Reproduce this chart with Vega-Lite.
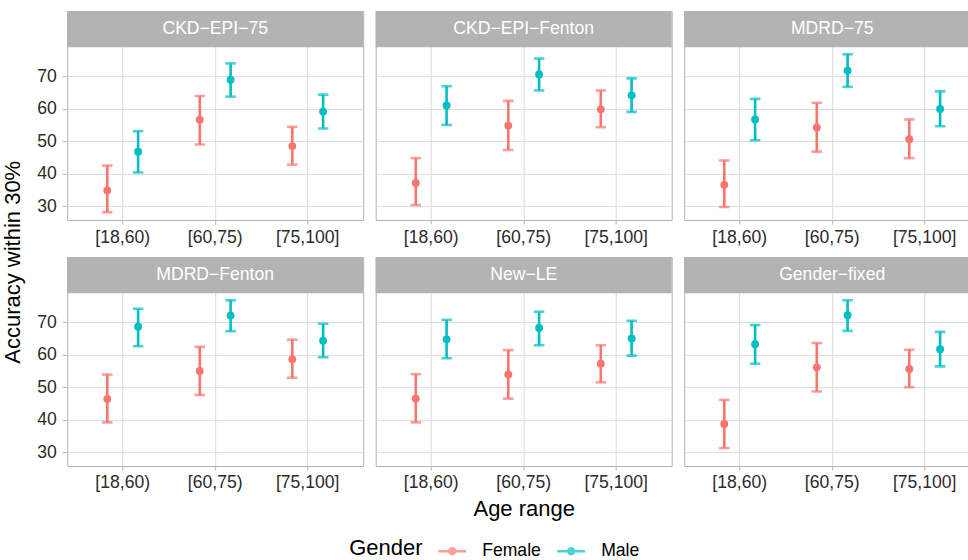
{
  "$schema": "https://vega.github.io/schema/vega-lite/v6.json",
  "padding": {"left": 1.2, "top": 10, "right": -10, "bottom": 0},
  "background": "white",
  "title": {"text": "Accuracy within 30%", "orient": "left", "anchor": "middle", "fontSize": 22, "fontWeight": "normal", "font": "Liberation Sans", "color": "black", "offset": 11.5, "dx": 23},
  "data": {"values": [
    {"Equation": "CKD−EPI−75", "Age": "[18,60)", "Gender": "Female", "acc": 34.9, "lo": 28.2, "hi": 42.5},
    {"Equation": "CKD−EPI−75", "Age": "[18,60)", "Gender": "Male", "acc": 46.8, "lo": 40.4, "hi": 53.1},
    {"Equation": "CKD−EPI−75", "Age": "[60,75)", "Gender": "Female", "acc": 56.6, "lo": 49.0, "hi": 63.9},
    {"Equation": "CKD−EPI−75", "Age": "[60,75)", "Gender": "Male", "acc": 68.9, "lo": 63.7, "hi": 73.9},
    {"Equation": "CKD−EPI−75", "Age": "[75,100]", "Gender": "Female", "acc": 48.5, "lo": 42.8, "hi": 54.4},
    {"Equation": "CKD−EPI−75", "Age": "[75,100]", "Gender": "Male", "acc": 59.1, "lo": 53.9, "hi": 64.3},
    {"Equation": "CKD−EPI−Fenton", "Age": "[18,60)", "Gender": "Female", "acc": 37.2, "lo": 30.4, "hi": 44.8},
    {"Equation": "CKD−EPI−Fenton", "Age": "[18,60)", "Gender": "Male", "acc": 61.0, "lo": 55.0, "hi": 66.9},
    {"Equation": "CKD−EPI−Fenton", "Age": "[60,75)", "Gender": "Female", "acc": 54.8, "lo": 47.3, "hi": 62.4},
    {"Equation": "CKD−EPI−Fenton", "Age": "[60,75)", "Gender": "Male", "acc": 70.5, "lo": 65.6, "hi": 75.4},
    {"Equation": "CKD−EPI−Fenton", "Age": "[75,100]", "Gender": "Female", "acc": 59.8, "lo": 54.3, "hi": 65.6},
    {"Equation": "CKD−EPI−Fenton", "Age": "[75,100]", "Gender": "Male", "acc": 64.1, "lo": 59.0, "hi": 69.3},
    {"Equation": "MDRD−75", "Age": "[18,60)", "Gender": "Female", "acc": 36.6, "lo": 29.8, "hi": 44.1},
    {"Equation": "MDRD−75", "Age": "[18,60)", "Gender": "Male", "acc": 56.7, "lo": 50.3, "hi": 63.0},
    {"Equation": "MDRD−75", "Age": "[60,75)", "Gender": "Female", "acc": 54.2, "lo": 46.8, "hi": 61.8},
    {"Equation": "MDRD−75", "Age": "[60,75)", "Gender": "Male", "acc": 71.7, "lo": 66.7, "hi": 76.7},
    {"Equation": "MDRD−75", "Age": "[75,100]", "Gender": "Female", "acc": 50.6, "lo": 44.8, "hi": 56.7},
    {"Equation": "MDRD−75", "Age": "[75,100]", "Gender": "Male", "acc": 59.9, "lo": 54.6, "hi": 65.3},
    {"Equation": "MDRD−Fenton", "Age": "[18,60)", "Gender": "Female", "acc": 46.4, "lo": 39.2, "hi": 53.9},
    {"Equation": "MDRD−Fenton", "Age": "[18,60)", "Gender": "Male", "acc": 68.6, "lo": 62.6, "hi": 74.1},
    {"Equation": "MDRD−Fenton", "Age": "[60,75)", "Gender": "Female", "acc": 55.0, "lo": 47.6, "hi": 62.4},
    {"Equation": "MDRD−Fenton", "Age": "[60,75)", "Gender": "Male", "acc": 72.0, "lo": 67.2, "hi": 76.7},
    {"Equation": "MDRD−Fenton", "Age": "[75,100]", "Gender": "Female", "acc": 58.6, "lo": 52.9, "hi": 64.6},
    {"Equation": "MDRD−Fenton", "Age": "[75,100]", "Gender": "Male", "acc": 64.3, "lo": 59.2, "hi": 69.5},
    {"Equation": "New−LE", "Age": "[18,60)", "Gender": "Female", "acc": 46.5, "lo": 39.2, "hi": 54.0},
    {"Equation": "New−LE", "Age": "[18,60)", "Gender": "Male", "acc": 64.7, "lo": 58.9, "hi": 70.7},
    {"Equation": "New−LE", "Age": "[60,75)", "Gender": "Female", "acc": 53.9, "lo": 46.5, "hi": 61.4},
    {"Equation": "New−LE", "Age": "[60,75)", "Gender": "Male", "acc": 68.2, "lo": 62.9, "hi": 73.2},
    {"Equation": "New−LE", "Age": "[75,100]", "Gender": "Female", "acc": 57.2, "lo": 51.5, "hi": 62.9},
    {"Equation": "New−LE", "Age": "[75,100]", "Gender": "Male", "acc": 65.0, "lo": 59.7, "hi": 70.4},
    {"Equation": "Gender−fixed", "Age": "[18,60)", "Gender": "Female", "acc": 38.7, "lo": 31.3, "hi": 46.1},
    {"Equation": "Gender−fixed", "Age": "[18,60)", "Gender": "Male", "acc": 63.2, "lo": 57.2, "hi": 69.1},
    {"Equation": "Gender−fixed", "Age": "[60,75)", "Gender": "Female", "acc": 56.1, "lo": 48.7, "hi": 63.6},
    {"Equation": "Gender−fixed", "Age": "[60,75)", "Gender": "Male", "acc": 72.1, "lo": 67.3, "hi": 76.7},
    {"Equation": "Gender−fixed", "Age": "[75,100]", "Gender": "Female", "acc": 55.6, "lo": 50.0, "hi": 61.5},
    {"Equation": "Gender−fixed", "Age": "[75,100]", "Gender": "Male", "acc": 61.7, "lo": 56.4, "hi": 67.0}
  ]},
  "facet": {
    "field": "Equation", "type": "nominal",
    "sort": ["CKD−EPI−75", "CKD−EPI−Fenton", "MDRD−75", "MDRD−Fenton", "New−LE", "Gender−fixed"],
    "header": {"labels": false, "labelExpr": "''", "labelFontSize": 0, "labelPadding": 0, "title": "Age range", "titleOrient": "bottom", "titleFontSize": 22, "titleFont": "Liberation Sans", "titleFontWeight": "normal", "titleColor": "black", "titlePadding": 6}
  },
  "columns": 3,
  "spacing": {"row": 9, "column": 10.5},
  "resolve": {"axis": {"x": "independent"}},
  "spec": {
    "width": 296,
    "height": 209,
    "encoding": {
      "x": {
        "field": "Age", "type": "nominal", "sort": ["[18,60)", "[60,75)", "[75,100]"],
        "scale": {"type": "band", "paddingInner": 0, "paddingOuter": 0.1},
        "axis": {"title": null, "labelAngle": 0, "bandPosition": 0.5, "grid": true, "gridColor": "#DEDEDE", "gridWidth": 1.1, "tickColor": "#B3B3B3", "tickSize": 4, "domain": false, "labelFontSize": 17.6, "labelColor": "#2b2b2b", "labelPadding": 4}
      }
    },
    "layer": [
      {
        "mark": {"type": "rule", "strokeWidth": 2.6},
        "encoding": {
          "xOffset": {"field": "Gender", "type": "nominal", "scale": {"type": "point", "padding": 1.51}},
          "y": {
            "field": "lo", "type": "quantitative",
            "scale": {"domain": [25.8, 90], "nice": false, "zero": false},
            "axis": {
              "title": null,
              "values": [30, 35, 40, 45, 50, 55, 60, 65, 70, 75],
              "labelExpr": "datum.value % 10 === 0 ? datum.label : ''",
              "grid": true,
              "gridColor": "#DEDEDE",
              "gridWidth": {"condition": {"test": "datum.value % 10 !== 0", "value": 0.6}, "value": 1.1},
              "tickOpacity": {"condition": {"test": "datum.value % 10 !== 0", "value": 0}, "value": 1},
              "tickColor": "#B3B3B3", "tickSize": 4, "domain": false,
              "labelFontSize": 17.6, "labelColor": "#2b2b2b", "labelPadding": 6
            }
          },
          "y2": {"field": "hi"},
          "color": {"field": "Gender", "type": "nominal", "scale": {"domain": ["Female", "Male"], "range": ["#F8766D", "#00BFC4"]}}
        }
      },
      {
        "mark": {"type": "tick", "thickness": 2.6, "size": 10.5},
        "encoding": {
          "xOffset": {"field": "Gender", "type": "nominal"},
          "y": {"field": "lo", "type": "quantitative"},
          "color": {"field": "Gender", "type": "nominal"}
        }
      },
      {
        "mark": {"type": "tick", "thickness": 2.6, "size": 10.5},
        "encoding": {
          "xOffset": {"field": "Gender", "type": "nominal"},
          "y": {"field": "hi", "type": "quantitative"},
          "color": {"field": "Gender", "type": "nominal"}
        }
      },
      {
        "mark": {"type": "circle", "size": 62, "opacity": 1},
        "encoding": {
          "xOffset": {"field": "Gender", "type": "nominal"},
          "y": {"field": "acc", "type": "quantitative"},
          "color": {
            "field": "Gender", "type": "nominal",
            "legend": {
              "orient": "none", "legendX": 282, "legendY": 526, "direction": "horizontal",
              "titleOrient": "left", "title": "Gender", "titleFontSize": 22, "titleFontWeight": "normal", "titleColor": "black", "titleFont": "Liberation Sans",
              "labelFontSize": 17.6, "labelColor": "black", "labelFont": "Liberation Sans",
              "symbolType": "M-1,-0.09H1V0.09H-1Z M0.3,0A0.3,0.3,0,1,1,-0.3,0A0.3,0.3,0,1,1,0.3,0Z",
              "symbolSize": 784, "symbolStrokeWidth": 0, "symbolOpacity": 1,
              "labelOffset": 16, "columnPadding": 16, "titlePadding": 15
            }
          }
        }
      },
      {
        "transform": [{"filter": "datum.Age === '[18,60)' && datum.Gender === 'Female'"}],
        "layer": [
          {
            "mark": {"type": "rect", "color": "#B3B3B3"},
            "encoding": {"y": {"datum": 78.9}, "y2": {"datum": 90}, "x": {"value": 0}, "x2": {"value": "width"}}
          },
          {
            "mark": {"type": "text", "color": "white", "fontSize": 17.6, "baseline": "middle", "align": "center", "font": "Liberation Sans"},
            "encoding": {"text": {"field": "Equation", "type": "nominal"}, "y": {"datum": 84.45}, "x": {"datum": "[60,75)", "type": "nominal"}}
          }
        ]
      }
    ]
  },
  "config": {
    "font": "Liberation Sans",
    "view": {"stroke": "#B3B3B3", "strokeWidth": 1},
    "header": {"labels": false},
    "axis": {"labelFont": "Liberation Sans", "titleFont": "Liberation Sans"}
  }
}
